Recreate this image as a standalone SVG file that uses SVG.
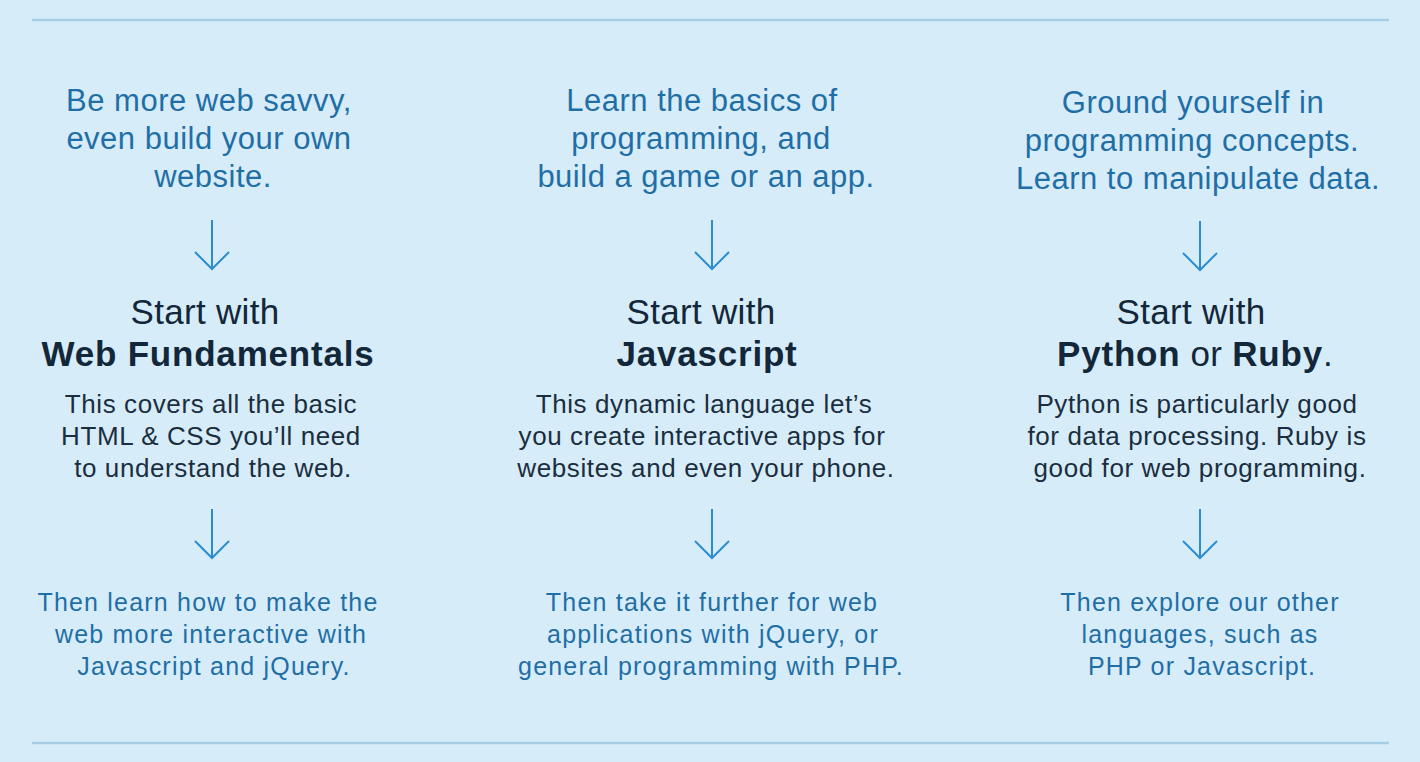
<svg xmlns="http://www.w3.org/2000/svg" width="1420" height="762" viewBox="0 0 1420 762">
<style>
text { font-family: "Liberation Sans", Arial, sans-serif; text-anchor: middle; }
.goal { font-size: 31px; letter-spacing: 0.5px; fill: #1f6fa6; }
.head { font-size: 35px; letter-spacing: 0.3px; fill: #13273a; }
.head .b { font-weight: bold; letter-spacing: 0.8px; }
.desc { font-size: 26px; letter-spacing: 0.6px; fill: #1b2e3f; }
.next { font-size: 25px; letter-spacing: 1.2px; fill: #1f6fa6; }
.rule { stroke: #a5cde8; stroke-width: 2.5; }
.arrow { stroke: #2b8dd0; stroke-width: 2; fill: none; marker-end: url(#vhead); }
</style>
<defs>
<marker id="vhead" viewBox="-20 -20 24 40" markerWidth="24" markerHeight="40" markerUnits="userSpaceOnUse" refX="0" refY="0" orient="auto">
<path d="M-17,-17 L0,0 L-17,17" fill="none" stroke="#2b8dd0" stroke-width="2"/>
</marker>
</defs>
<rect x="0" y="0" width="1420" height="762" fill="#d7ecf9"/>
<line class="rule" x1="32" y1="20" x2="1389" y2="20"/>
<line class="rule" x1="32" y1="743" x2="1389" y2="743"/>

<g id="goal-web">
<text class="goal" x="209" y="111">Be more web savvy,</text>
<text class="goal" x="209" y="149">even build your own</text>
<text class="goal" x="213" y="187">website.</text>
</g>
<g id="start-web">
<text class="head" x="205" y="324">Start with</text>
<text class="head" x="208" y="366"><tspan class="b">Web Fundamentals</tspan></text>
<text class="desc" x="211" y="413">This covers all the basic</text>
<text class="desc" x="211" y="445">HTML &amp; CSS you’ll need</text>
<text class="desc" x="213" y="477">to understand the web.</text>
</g>
<g id="next-web">
<text class="next" x="208" y="611">Then learn how to make the</text>
<text class="next" x="211" y="643">web more interactive with</text>
<text class="next" x="214" y="675">Javascript and jQuery.</text>
</g>

<g id="goal-js">
<text class="goal" x="702" y="111">Learn the basics of</text>
<text class="goal" x="701" y="149">programming, and</text>
<text class="goal" x="706" y="187">build a game or an app.</text>
</g>
<g id="start-js">
<text class="head" x="701" y="324">Start with</text>
<text class="head" x="707" y="366"><tspan class="b">Javascript</tspan></text>
<text class="desc" x="704" y="413">This dynamic language let’s</text>
<text class="desc" x="702" y="445">you create interactive apps for</text>
<text class="desc" x="706" y="477">websites and even your phone.</text>
</g>
<g id="next-js">
<text class="next" x="712" y="611">Then take it further for web</text>
<text class="next" x="713" y="643">applications with jQuery, or</text>
<text class="next" x="711" y="675">general programming with PHP.</text>
</g>

<g id="goal-py">
<text class="goal" x="1193" y="113">Ground yourself in</text>
<text class="goal" x="1192" y="151">programming concepts.</text>
<text class="goal" x="1198" y="189">Learn to manipulate data.</text>
</g>
<g id="start-py">
<text class="head" x="1191" y="324">Start with</text>
<text class="head" x="1195" y="366"><tspan class="b">Python</tspan> or <tspan class="b">Ruby</tspan>.</text>
<text class="desc" x="1197" y="413">Python is particularly good</text>
<text class="desc" x="1197" y="445">for data processing. Ruby is</text>
<text class="desc" x="1200" y="477">good for web programming.</text>
</g>
<g id="next-py">
<text class="next" x="1200" y="611">Then explore our other</text>
<text class="next" x="1200" y="643">languages, such as</text>
<text class="next" x="1202" y="675">PHP or Javascript.</text>
</g>

<g id="connectors">
<line class="arrow" x1="212" y1="220" x2="212" y2="269"/>
<line class="arrow" x1="212" y1="509" x2="212" y2="558"/>
<line class="arrow" x1="712" y1="220" x2="712" y2="269"/>
<line class="arrow" x1="712" y1="509" x2="712" y2="558"/>
<line class="arrow" x1="1200" y1="221" x2="1200" y2="270"/>
<line class="arrow" x1="1200" y1="509" x2="1200" y2="558"/>
</g>
</svg>
